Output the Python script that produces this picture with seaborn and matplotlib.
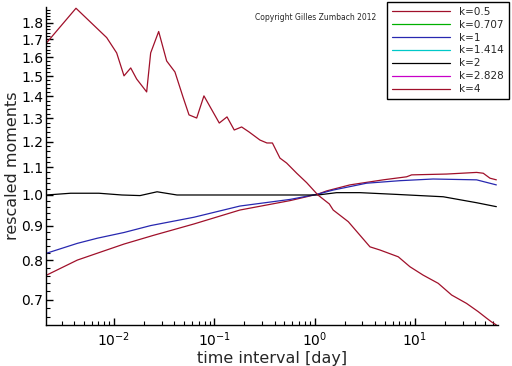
import numpy as np
import pandas as pd
import matplotlib
matplotlib.use("Agg")
import matplotlib.pyplot as plt
from matplotlib.lines import Line2D
from matplotlib.ticker import FixedLocator, FormatStrFormatter, LogLocator, NullFormatter
import seaborn as sns

# ---- data ----
k_labels = ["k=0.5", "k=0.707", "k=1", "k=1.414", "k=2", "k=2.828", "k=4"]
k_colors = ["#a0102a", "#00b000", "#2828b0", "#00c8c8", "#000000", "#c800c8", "#a0102a"]

x_k05 = [0.00213, 0.00431, 0.00682, 0.01259, 0.0251, 0.0628, 0.180, 0.569, 1.08, 1.32, 2.25,
         4.84, 8.28, 9.29, 20.7, 41.3, 48.1, 56.1, 65.0]
y_k05 = [0.761, 0.801, 0.820, 0.846, 0.872, 0.906, 0.950, 0.981, 1.003, 1.014, 1.035,
         1.053, 1.064, 1.071, 1.074, 1.080, 1.077, 1.059, 1.053]

x_k1 = [0.00213, 0.00431, 0.00682, 0.01259, 0.02322, 0.0628, 0.180, 0.569, 1.08, 1.535, 3.30,
        7.10, 15.2, 41.3, 65.0]
y_k1 = [0.820, 0.848, 0.863, 0.880, 0.901, 0.927, 0.963, 0.985, 1.003, 1.017, 1.041,
        1.050, 1.056, 1.053, 1.035]

x_k2 = [0.00213, 0.0037, 0.00708, 0.0120, 0.0182, 0.0269, 0.0425, 0.114, 0.227, 0.452, 1.08,
        1.66, 2.84, 6.59, 11.2, 19.2, 41.3, 65.0]
y_k2 = [1.000, 1.006, 1.006, 1.000, 0.998, 1.011, 1.000, 1.000, 1.000, 1.000, 1.000,
        1.008, 1.008, 1.002, 0.998, 0.994, 0.974, 0.961]

x_k4 = [0.00213, 0.00418, 0.00846, 0.01064, 0.01259, 0.01469, 0.01683, 0.02118, 0.02322, 0.02791,
        0.03353, 0.04055, 0.04875, 0.0560, 0.0668, 0.0789, 0.0921, 0.1122, 0.1340, 0.1582,
        0.1875, 0.2218, 0.2856, 0.335, 0.380, 0.452, 0.527, 0.664, 0.834, 1.081,
        1.403, 1.535, 2.17, 3.57, 4.49, 6.84, 8.94, 12.1, 17.1, 23.3,
        32.8, 42.8, 52.0, 58.0, 65.0]
y_k4 = [1.680, 1.890, 1.710, 1.623, 1.501, 1.542, 1.485, 1.421, 1.623, 1.746,
        1.579, 1.521, 1.397, 1.314, 1.300, 1.402, 1.346, 1.278, 1.305, 1.248,
        1.261, 1.240, 1.206, 1.194, 1.194, 1.134, 1.115, 1.077, 1.043, 1.000,
        0.970, 0.950, 0.913, 0.838, 0.829, 0.810, 0.783, 0.761, 0.740, 0.711,
        0.691, 0.672, 0.657, 0.649, 0.642]

series = {
    "k=0.5": (x_k05, y_k05),
    "k=1": (x_k1, y_k1),
    "k=2": (x_k2, y_k2),
    "k=4": (x_k4, y_k4),
}

y_major = [0.7, 0.8, 0.9, 1.0, 1.1, 1.2, 1.3, 1.4, 1.5, 1.6, 1.7, 1.8]

# ---- figure ----
sns.set_style("ticks")
plt.rcParams["font.family"] = ["DejaVu Sans"]

fig = plt.figure(figsize=(5.12, 3.66), dpi=100)
ax = fig.add_axes([46 / 512, 1 - 325 / 366, (498 - 46) / 512, (325 - 6.7) / 366])

color_map = dict(zip(k_labels, k_colors))
for lab, (xs, ys) in series.items():
    df = pd.DataFrame({"x": xs, "y": ys})
    sns.lineplot(data=df, x="x", y="y", ax=ax, color=color_map[lab], lw=0.9,
                 sort=False, estimator=None, legend=False)

ax.set_xscale("log")
ax.set_yscale("log")
ax.set_xlim(0.0021, 67.5)
ax.set_ylim(0.642, 1.90)

ax.yaxis.set_major_locator(FixedLocator(y_major))
ax.yaxis.set_major_formatter(FormatStrFormatter("%.1f"))
minors = [round(v, 2) for v in np.arange(0.64, 1.905, 0.02)]
ax.yaxis.set_minor_locator(FixedLocator([m for m in minors if round(m * 10) / 10 != m]))
ax.yaxis.set_minor_formatter(NullFormatter())
ax.xaxis.set_major_locator(LogLocator(base=10, numticks=10))
ax.xaxis.set_minor_locator(LogLocator(base=10, subs=np.arange(2, 10), numticks=20))
ax.xaxis.set_minor_formatter(NullFormatter())

for s in ["top", "right"]:
    ax.spines[s].set_visible(False)
for s in ["left", "bottom"]:
    ax.spines[s].set_color("black")
    ax.spines[s].set_linewidth(1.0)
ax.tick_params(which="major", direction="in", length=5, width=1, colors="black", labelsize=10)
ax.tick_params(which="minor", direction="in", length=3, width=0.8, colors="black")
ax.tick_params(axis="x", pad=4)
ax.tick_params(axis="y", pad=2)

ax.set_xlabel("time interval [day]", fontsize=11.5, labelpad=1)
ax.set_ylabel("rescaled moments", fontsize=11.5, labelpad=1)
ax.yaxis.set_label_coords(-0.057, 0.5)

fig.text(255 / 512, 1 - 17 / 366, "Copyright Gilles Zumbach 2012", fontsize=5.5,
         ha="left", va="center")

handles = [Line2D([0], [0], color=c, lw=0.9) for c in k_colors]
leg = ax.legend(handles, k_labels, loc="upper left",
                bbox_to_anchor=(387 / 512, 1 - 2 / 366), bbox_transform=fig.transFigure,
                borderaxespad=0, fontsize=7.5, handlelength=5.6, handletextpad=0.9,
                labelspacing=0.28, borderpad=0.45, fancybox=False, framealpha=1,
                edgecolor="black")
leg.get_frame().set_linewidth(1.0)

fig.savefig("out.png", dpi=100)
